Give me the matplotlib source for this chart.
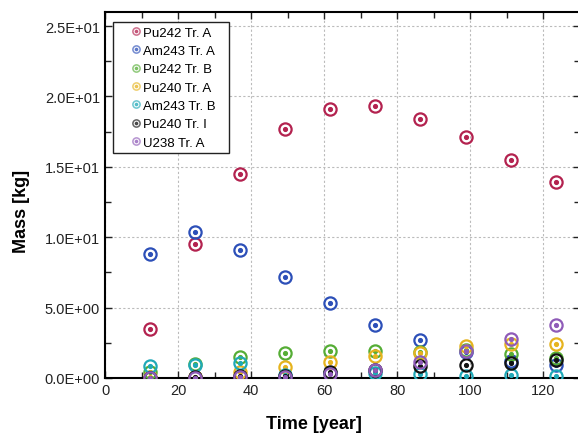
import matplotlib.pyplot as plt
from matplotlib.lines import Line2D
from matplotlib.legend_handler import HandlerTuple
from matplotlib.ticker import MultipleLocator, FormatStrFormatter

plt.rcParams['font.family'] = ['Liberation Sans', 'DejaVu Sans']

# time points [year]
time = [12.3, 24.7, 37.0, 49.3, 61.7, 74.0, 86.3, 98.7, 111.0, 123.3]

# masses [kg]
pu242_a = [3.5, 9.5, 14.5, 17.7, 19.1, 19.3, 18.4, 17.1, 15.5, 13.9]
am243_a = [8.8, 10.4, 9.1, 7.2, 5.3, 3.8, 2.7, 1.85, 1.2, 0.9]
pu242_b = [0.45, 1.0, 1.5, 1.8, 1.9, 1.9, 1.87, 2.0, 1.7, 1.45]
pu240_a = [0.1, 0.1, 0.4, 0.75, 1.15, 1.55, 1.8, 2.3, 2.45, 2.45]
am243_b = [0.85, 0.95, 1.05, 0.2, 0.35, 0.35, 0.28, 0.16, 0.2, 0.12]
pu240_i = [0.02, 0.05, 0.12, 0.15, 0.4, 0.55, 0.85, 0.95, 1.1, 1.25]
u238_a = [0.0, 0.02, 0.05, 0.1, 0.3, 0.6, 1.15, 1.9, 2.75, 3.8]

labels = ['Pu242 Tr. A', 'Am243 Tr. A', 'Pu242 Tr. B', 'Pu240 Tr. A',
          'Am243 Tr. B', 'Pu240 Tr. I', 'U238 Tr. A']
series = [pu242_a, am243_a, pu242_b, pu240_a, am243_b, pu240_i, u238_a]
colors = ['#b3224f', '#2c4fb8', '#55ad35', '#e6b31e', '#1fa9b8', '#111111', '#8f5bb8']

fig = plt.figure(figsize=(5.78, 4.35), dpi=100)
ax = fig.add_axes([105 / 578, 56 / 435, 475 / 578, 366 / 435])

handles = []
for vals, c in zip(series, colors):
    ax.plot(time, vals, ls='', marker='o', mfc='none', mec=c, ms=8.8, mew=1.6, zorder=3)
    ax.plot(time, vals, ls='', marker='o', color=c, ms=2.7, zorder=3)
    ring = Line2D([], [], ls='', marker='o', mfc='none', mec=c, ms=5.2, mew=1.1, alpha=0.65)
    dot = Line2D([], [], ls='', marker='o', color=c, ms=1.7, alpha=0.65)
    handles.append((ring, dot))

ax.set_xlim(0, 130)
ax.set_ylim(0, 26)
ax.xaxis.set_major_locator(MultipleLocator(20))
ax.xaxis.set_minor_locator(MultipleLocator(10))
ax.yaxis.set_major_locator(MultipleLocator(5))
ax.yaxis.set_minor_locator(MultipleLocator(2.5))
ax.yaxis.set_major_formatter(FormatStrFormatter('%.1E'))
ax.tick_params(which='both', direction='in', top=True, right=True, labelsize=10.5,
               colors='#222222', labelcolor='#222222')
ax.tick_params(which='major', length=5, width=1)
ax.tick_params(which='minor', length=4, width=1)
for s in ax.spines.values():
    s.set_linewidth(1.5)
ax.grid(True, which='major', ls=(0, (2, 2)), color='#bbbbbb', lw=0.8)

ax.set_xlabel('Time [year]', fontsize=13, fontweight='bold', va='center')
ax.set_ylabel('Mass [kg]', fontsize=13, fontweight='bold', va='center')
ax.xaxis.set_label_coords((314 - 105) / 475, -46 / 366)
ax.yaxis.set_label_coords(-83 / 475, (379 - 211) / 366)

leg = ax.legend(handles, labels, handler_map={tuple: HandlerTuple(ndivide=1, pad=0)},
                loc='upper left', bbox_to_anchor=(0.017, 0.973, 0.244, 0.0),
                mode='expand', borderaxespad=0,
                fontsize=9.5, handlelength=2.8, handletextpad=-0.85, labelspacing=0.46,
                fancybox=False, edgecolor='#222222', framealpha=1, borderpad=0.35)
leg.get_frame().set_linewidth(1)

fig.savefig('out.png', dpi=100)
